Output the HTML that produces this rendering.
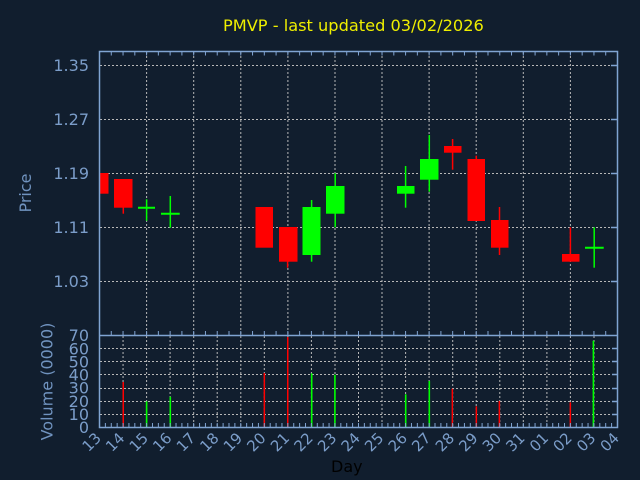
<!DOCTYPE html>
<html>
<head>
<meta charset="utf-8">
<style>
html,body{margin:0;padding:0;background:#111e2e;}
svg{display:block;}
text{font-family:"DejaVu Sans","Liberation Sans",sans-serif;}
</style>
</head>
<body>
<svg width="640" height="480" viewBox="0 0 640 480" xmlns="http://www.w3.org/2000/svg">
<rect x="0" y="0" width="640" height="480" fill="#111e2e"/>

<!-- Title -->
<text x="223" y="31" font-size="16.2" fill="#eeee00">PMVP - last updated 03/02/2026</text>

<!-- Price grid horizontal -->
<g stroke="#b8b8b8" stroke-width="1" stroke-dasharray="2 2" fill="none">
<line x1="100" y1="65.5" x2="617" y2="65.5"/>
<line x1="100" y1="119.5" x2="617" y2="119.5"/>
<line x1="100" y1="173.5" x2="617" y2="173.5"/>
<line x1="100" y1="227.5" x2="617" y2="227.5"/>
<line x1="100" y1="281.5" x2="617" y2="281.5"/>
<!-- Price grid vertical (every 2 days) -->
<line x1="146.6" y1="52" x2="146.6" y2="335"/>
<line x1="193.7" y1="52" x2="193.7" y2="335"/>
<line x1="240.8" y1="52" x2="240.8" y2="335"/>
<line x1="287.9" y1="52" x2="287.9" y2="335"/>
<line x1="335.0" y1="52" x2="335.0" y2="335"/>
<line x1="382.0" y1="52" x2="382.0" y2="335"/>
<line x1="429.1" y1="52" x2="429.1" y2="335"/>
<line x1="476.2" y1="52" x2="476.2" y2="335"/>
<line x1="523.3" y1="52" x2="523.3" y2="335"/>
<line x1="570.4" y1="52" x2="570.4" y2="335"/>
<!-- Volume grid horizontal -->
<line x1="100" y1="414.5" x2="617" y2="414.5"/>
<line x1="100" y1="401.5" x2="617" y2="401.5"/>
<line x1="100" y1="388.5" x2="617" y2="388.5"/>
<line x1="100" y1="374.5" x2="617" y2="374.5"/>
<line x1="100" y1="361.5" x2="617" y2="361.5"/>
<line x1="100" y1="348.5" x2="617" y2="348.5"/>
<!-- Volume grid vertical (every day) -->
<line x1="123.05" y1="336" x2="123.05" y2="427"/>
<line x1="146.6" y1="336" x2="146.6" y2="427"/>
<line x1="170.1" y1="336" x2="170.1" y2="427"/>
<line x1="193.7" y1="336" x2="193.7" y2="427"/>
<line x1="217.2" y1="336" x2="217.2" y2="427"/>
<line x1="240.8" y1="336" x2="240.8" y2="427"/>
<line x1="264.3" y1="336" x2="264.3" y2="427"/>
<line x1="287.9" y1="336" x2="287.9" y2="427"/>
<line x1="311.4" y1="336" x2="311.4" y2="427"/>
<line x1="335.0" y1="336" x2="335.0" y2="427"/>
<line x1="358.5" y1="336" x2="358.5" y2="427"/>
<line x1="382.0" y1="336" x2="382.0" y2="427"/>
<line x1="405.6" y1="336" x2="405.6" y2="427"/>
<line x1="429.1" y1="336" x2="429.1" y2="427"/>
<line x1="452.7" y1="336" x2="452.7" y2="427"/>
<line x1="476.2" y1="336" x2="476.2" y2="427"/>
<line x1="499.8" y1="336" x2="499.8" y2="427"/>
<line x1="523.3" y1="336" x2="523.3" y2="427"/>
<line x1="546.9" y1="336" x2="546.9" y2="427"/>
<line x1="570.4" y1="336" x2="570.4" y2="427"/>
<line x1="594.0" y1="336" x2="594.0" y2="427"/>
</g>

<!-- Candles -->
<g stroke-width="1.5">
<rect x="100" y="173" width="8.5" height="20.7" fill="#ff0000"/>
<line x1="123.3" y1="207" x2="123.3" y2="213.7" stroke="#ff0000"/>
<rect x="114" y="179" width="18.5" height="28.7" fill="#ff0000"/>
<line x1="146.6" y1="199.3" x2="146.6" y2="220.7" stroke="#00ff00"/>
<line x1="138" y1="207.7" x2="155" y2="207.7" stroke="#00ff00" stroke-width="2"/>
<line x1="170.3" y1="196" x2="170.3" y2="227.7" stroke="#00ff00"/>
<line x1="161" y1="213.7" x2="179.7" y2="213.7" stroke="#00ff00" stroke-width="2"/>
<rect x="255.5" y="207" width="17.5" height="40.7" fill="#ff0000"/>
<line x1="287.6" y1="261" x2="287.6" y2="267.7" stroke="#ff0000"/>
<rect x="279" y="227" width="18.5" height="34.7" fill="#ff0000"/>
<line x1="311.6" y1="200" x2="311.6" y2="261.7" stroke="#00ff00"/>
<rect x="302.5" y="207" width="18" height="48" fill="#00ff00"/>
<line x1="335.2" y1="173.3" x2="335.2" y2="227.3" stroke="#00ff00"/>
<rect x="326" y="186" width="18.5" height="27.7" fill="#00ff00"/>
<line x1="405.6" y1="166" x2="405.6" y2="207.7" stroke="#00ff00"/>
<rect x="397" y="186" width="17.5" height="7.7" fill="#00ff00"/>
<line x1="429.3" y1="135" x2="429.3" y2="191.7" stroke="#00ff00"/>
<rect x="420" y="159" width="18.5" height="20.7" fill="#00ff00"/>
<line x1="452.6" y1="139" x2="452.6" y2="169.7" stroke="#ff0000"/>
<rect x="444" y="146" width="17.5" height="6.7" fill="#ff0000"/>
<line x1="476.3" y1="155.7" x2="476.3" y2="221" stroke="#ff0000"/>
<rect x="467.5" y="159" width="17.5" height="62" fill="#ff0000"/>
<line x1="499.5" y1="207" x2="499.5" y2="255" stroke="#ff0000"/>
<rect x="491" y="220" width="17.5" height="27.7" fill="#ff0000"/>
<line x1="570.4" y1="227.3" x2="570.4" y2="261.7" stroke="#ff0000"/>
<rect x="562" y="254" width="17.5" height="7.7" fill="#ff0000"/>
<line x1="594.2" y1="227.3" x2="594.2" y2="267.7" stroke="#00ff00"/>
<line x1="585" y1="247.7" x2="603.7" y2="247.7" stroke="#00ff00" stroke-width="2"/>
</g>

<!-- Volume bars -->
<g>
<rect x="122.5" y="382" width="1.5" height="45.3" fill="#ff0000"/>
<rect x="145.8" y="401.3" width="1.6" height="26" fill="#00ff00"/>
<rect x="169.5" y="396.7" width="1.6" height="30.6" fill="#00ff00"/>
<rect x="263.6" y="373" width="1.5" height="54.3" fill="#ff0000"/>
<rect x="287" y="337" width="1.5" height="90.3" fill="#ff0000"/>
<rect x="310.9" y="373.3" width="1.6" height="54" fill="#00ff00"/>
<rect x="334.1" y="374.7" width="1.6" height="52.6" fill="#00ff00"/>
<rect x="404.9" y="394.3" width="1.6" height="33" fill="#00ff00"/>
<rect x="428.5" y="381" width="1.6" height="46.3" fill="#00ff00"/>
<rect x="451.6" y="388.7" width="1.5" height="38.6" fill="#ff0000"/>
<rect x="475.6" y="406.3" width="1.5" height="21" fill="#ff0000"/>
<rect x="498.6" y="401" width="1.5" height="26.3" fill="#ff0000"/>
<rect x="569.6" y="402.3" width="1.5" height="25" fill="#ff0000"/>
<rect x="592.6" y="340.7" width="1.6" height="86.6" fill="#00ff00"/>
</g>

<!-- Axes frame -->
<g stroke="#80a4d2" stroke-width="1.5" fill="none">
<rect x="99.5" y="51.5" width="518" height="376"/>
<line x1="99.5" y1="335.5" x2="617.5" y2="335.5"/>
<line x1="99" y1="53.5" x2="618" y2="53.5" stroke-width="4" stroke-dasharray="1 10.7725"/>
<line x1="99" y1="333" x2="618" y2="333" stroke-width="4" stroke-dasharray="1 10.7725"/>
<line x1="99" y1="425" x2="618" y2="425" stroke-width="4" stroke-dasharray="1 4.886"/>
<line x1="611" y1="65.5" x2="617" y2="65.5"/>
<line x1="611" y1="119.5" x2="617" y2="119.5"/>
<line x1="611" y1="173.5" x2="617" y2="173.5"/>
<line x1="611" y1="227.5" x2="617" y2="227.5"/>
<line x1="611" y1="281.5" x2="617" y2="281.5"/>
<line x1="612" y1="414.5" x2="617" y2="414.5"/>
<line x1="612" y1="401.5" x2="617" y2="401.5"/>
<line x1="612" y1="388.5" x2="617" y2="388.5"/>
<line x1="612" y1="374.5" x2="617" y2="374.5"/>
<line x1="612" y1="361.5" x2="617" y2="361.5"/>
<line x1="612" y1="348.5" x2="617" y2="348.5"/>
</g>

<!-- Price labels -->
<g font-size="16" fill="#7b9dc9" text-anchor="end">
<text x="89" y="71">1.35</text>
<text x="89" y="125">1.27</text>
<text x="89" y="179">1.19</text>
<text x="89" y="233">1.11</text>
<text x="89" y="287">1.03</text>
<text x="89" y="341">70</text>
<text x="89" y="354.3">60</text>
<text x="89" y="367.4">50</text>
<text x="89" y="380.5">40</text>
<text x="89" y="393.7">30</text>
<text x="89" y="407">20</text>
<text x="89" y="420">10</text>
<text x="89" y="433">0</text>
</g>

<!-- Axis titles -->
<text transform="translate(31,193) rotate(-90)" font-size="16" fill="#7093bf" text-anchor="middle">Price</text>
<text transform="translate(52.5,381.5) rotate(-90)" font-size="16" fill="#7093bf" text-anchor="middle">Volume (0000)</text>
<text x="331" y="472" font-size="16" fill="#000000">Day</text>

<!-- X labels -->
<g font-size="15" fill="#7b9dc9" text-anchor="end">
<text transform="translate(102,439) rotate(-45)">13</text>
<text transform="translate(125.5,439) rotate(-45)">14</text>
<text transform="translate(149.1,439) rotate(-45)">15</text>
<text transform="translate(172.6,439) rotate(-45)">16</text>
<text transform="translate(196.2,439) rotate(-45)">17</text>
<text transform="translate(219.7,439) rotate(-45)">18</text>
<text transform="translate(243.3,439) rotate(-45)">19</text>
<text transform="translate(266.8,439) rotate(-45)">20</text>
<text transform="translate(290.4,439) rotate(-45)">21</text>
<text transform="translate(313.9,439) rotate(-45)">22</text>
<text transform="translate(337.5,439) rotate(-45)">23</text>
<text transform="translate(361,439) rotate(-45)">24</text>
<text transform="translate(384.5,439) rotate(-45)">25</text>
<text transform="translate(408.1,439) rotate(-45)">26</text>
<text transform="translate(431.6,439) rotate(-45)">27</text>
<text transform="translate(455.2,439) rotate(-45)">28</text>
<text transform="translate(478.7,439) rotate(-45)">29</text>
<text transform="translate(502.3,439) rotate(-45)">30</text>
<text transform="translate(525.8,439) rotate(-45)">31</text>
<text transform="translate(549.4,439) rotate(-45)">01</text>
<text transform="translate(572.9,439) rotate(-45)">02</text>
<text transform="translate(596.5,439) rotate(-45)">03</text>
<text transform="translate(620,439) rotate(-45)">04</text>
</g>
</svg>
</body>
</html>
